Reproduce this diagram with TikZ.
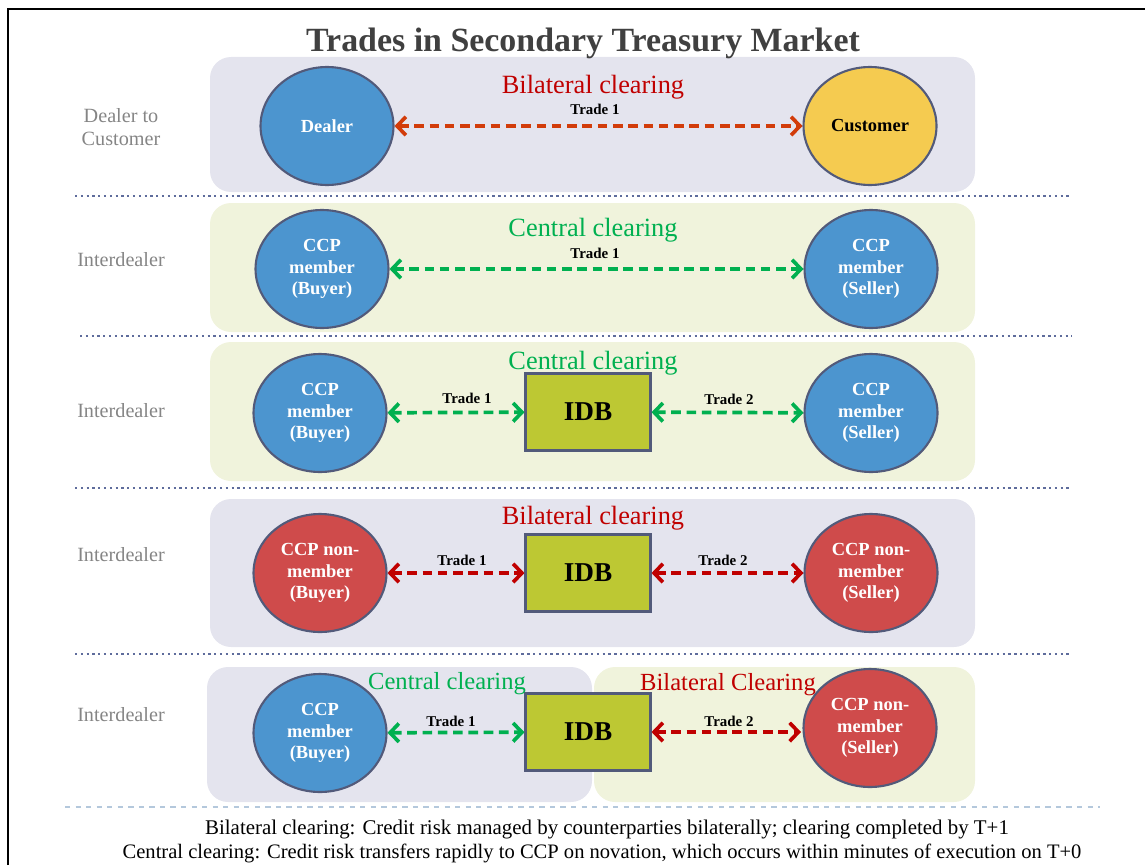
\documentclass[tikz,border=0pt]{standalone}
\usepackage{fontspec}
\setmainfont{Liberation Serif}
\usetikzlibrary{shapes.geometric,arrows.meta}
\definecolor{lavender}{HTML}{E4E4EE}
\definecolor{cream}{HTML}{F0F3DC}
\definecolor{cblue}{HTML}{4C95CF}
\definecolor{cred}{HTML}{CF4B4B}
\definecolor{cyellow}{HTML}{F5CB50}
\definecolor{cidb}{HTML}{BDC833}
\definecolor{cedge}{HTML}{525A7A}
\definecolor{bilat}{HTML}{C00000}
\definecolor{bilatorange}{HTML}{D23C0A}
\definecolor{central}{HTML}{00B050}
\definecolor{sepline}{HTML}{5E6C9C}
\definecolor{noteline}{HTML}{B4C8DC}
\begin{document}
\begin{tikzpicture}[x=0.02cm,y=-0.02cm,
  party/.style={ellipse,draw=cedge,line width=1.2pt,minimum width=2.66cm,minimum height=2.36cm,inner sep=0pt,
    text=white,align=center,font=\fontsize{10.5}{12.3}\selectfont\bfseries},
  idb/.style={rectangle,draw=cedge,line width=1.2pt,fill=cidb,minimum width=2.5cm,minimum height=1.54cm,
    font=\fontsize{15.5}{18}\selectfont\bfseries},
  trade/.style={dash pattern=on 5.5pt off 3.2pt,line width=2.1pt,{Straight Barb[length=5pt,width=10.5pt]}-{Straight Barb[length=5pt,width=10.5pt]}},
  trlabel/.style={font=\fontsize{8.5}{10}\selectfont\bfseries},
  kind/.style={font=\fontsize{15}{17}\selectfont},
  smallkind/.style={font=\fontsize{14}{16}\selectfont},
  rowlabel/.style={text=black!48,align=center,font=\fontsize{11.5}{13.5}\selectfont},
  sep/.style={sepline,dotted,line width=1.3pt},
  panel/.style={rounded corners=0.42cm}]

  \useasboundingbox (0,0) rectangle (1145,865);
  \draw[line width=1pt] (8,865) -- (8,9) -- (1145,9);

  % panels
  \fill[panel,lavender] (210,57) rectangle (975,192);
  \fill[panel,cream] (210,203) rectangle (975,332);
  \fill[panel,cream] (210,342) rectangle (975,481);
  \fill[panel,lavender] (210,499) rectangle (975,647);
  \fill[panel,lavender] (207,667) rectangle (592,802);
  \fill[panel,cream] (594,667) rectangle (975,802);

  \draw[sep] (75,196) -- (1070,196);
  \draw[sep] (80,336) -- (1072,336);
  \draw[sep] (75,488) -- (1070,488);
  \draw[sep] (75,654) -- (1070,654);
  \draw[noteline,dashed,line width=1pt] (65,807) -- (1100,807);

  \node[font=\fontsize{19.3}{23}\selectfont\bfseries,text=black!75] (title) at (583,43) {Trades in Secondary Treasury Market};

  % row labels
  \node[rowlabel] (r1) at (121,127) {Dealer to\\Customer};
  \node[rowlabel] (r2) at (121,260) {Interdealer};
  \node[rowlabel] (r3) at (121,411) {Interdealer};
  \node[rowlabel] (r4) at (121,555) {Interdealer};
  \node[rowlabel] (r5) at (121,715) {Interdealer};

  % row 1
  \node[party,fill=cblue] (d) at (327,126) {Dealer};
  \node[party,fill=cyellow,text=black] (c) at (870,126) {Customer};
  \draw[trade,bilatorange] (d) -- (c);
  \node[kind,text=bilat] (k1) at (593,87) {Bilateral clearing};
  \node[trlabel] (t11) at (595,109) {Trade 1};

  % row 2
  \node[party,fill=cblue] (b2) at (322,269) {CCP\\member\\(Buyer)};
  \node[party,fill=cblue] (s2) at (871,269) {CCP\\member\\(Seller)};
  \draw[trade,central] (b2) -- (s2);
  \node[kind,text=central] (k2) at (593,230) {Central clearing};
  \node[trlabel] (t21) at (595,253) {Trade 1};

  % row 3
  \node[party,fill=cblue] (b3) at (320,413) {CCP\\member\\(Buyer)};
  \node[idb] (i3) at (588,412) {IDB};
  \node[party,fill=cblue] (s3) at (871,413) {CCP\\member\\(Seller)};
  \draw[trade,central] (b3) -- (i3);
  \draw[trade,central] (i3) -- (s3);
  \node[kind,text=central] (k3) at (593,363) {Central clearing};
  \node[trlabel] (t31) at (467,398) {Trade 1};
  \node[trlabel] (t32) at (729,399) {Trade 2};

  % row 4
  \node[party,fill=cred] (b4) at (320,573) {CCP non-\\member\\(Buyer)};
  \node[idb] (i4) at (588,573) {IDB};
  \node[party,fill=cred] (s4) at (871,573) {CCP non-\\member\\(Seller)};
  \draw[trade,bilat] (b4) -- (i4);
  \draw[trade,bilat] (i4) -- (s4);
  \node[kind,text=bilat] (k4) at (593,518) {Bilateral clearing};
  \node[trlabel] (t41) at (462,560) {Trade 1};
  \node[trlabel] (t42) at (723,560) {Trade 2};

  % row 5
  \node[party,fill=cblue] (b5) at (320,733) {CCP\\member\\(Buyer)};
  \node[idb] (i5) at (588,732) {IDB};
  \node[party,fill=cred] (s5) at (870,728) {CCP non-\\member\\(Seller)};
  \coordinate (e5) at (801,732);
  \draw[trade,central] (b5) -- (i5);
  \draw[trade,bilat] (i5) -- (e5);
  \node[smallkind,text=central] (k5) at (447,684) {Central clearing};
  \node[smallkind,text=bilat] (k6) at (728,685) {Bilateral Clearing};
  \node[trlabel] (t51) at (451,721) {Trade 1};
  \node[trlabel] (t52) at (729,721) {Trade 2};

  % notes
  \node[font=\fontsize{11.9}{13}\selectfont] (n1) at (607,829) {Bilateral clearing: Credit risk managed by counterparties bilaterally; clearing completed by T+1};
  \node[font=\fontsize{11.7}{13}\selectfont] (n2) at (602,853) {Central clearing: Credit risk transfers rapidly to CCP on novation, which occurs within minutes of execution on T+0};
\end{tikzpicture}
\end{document}
